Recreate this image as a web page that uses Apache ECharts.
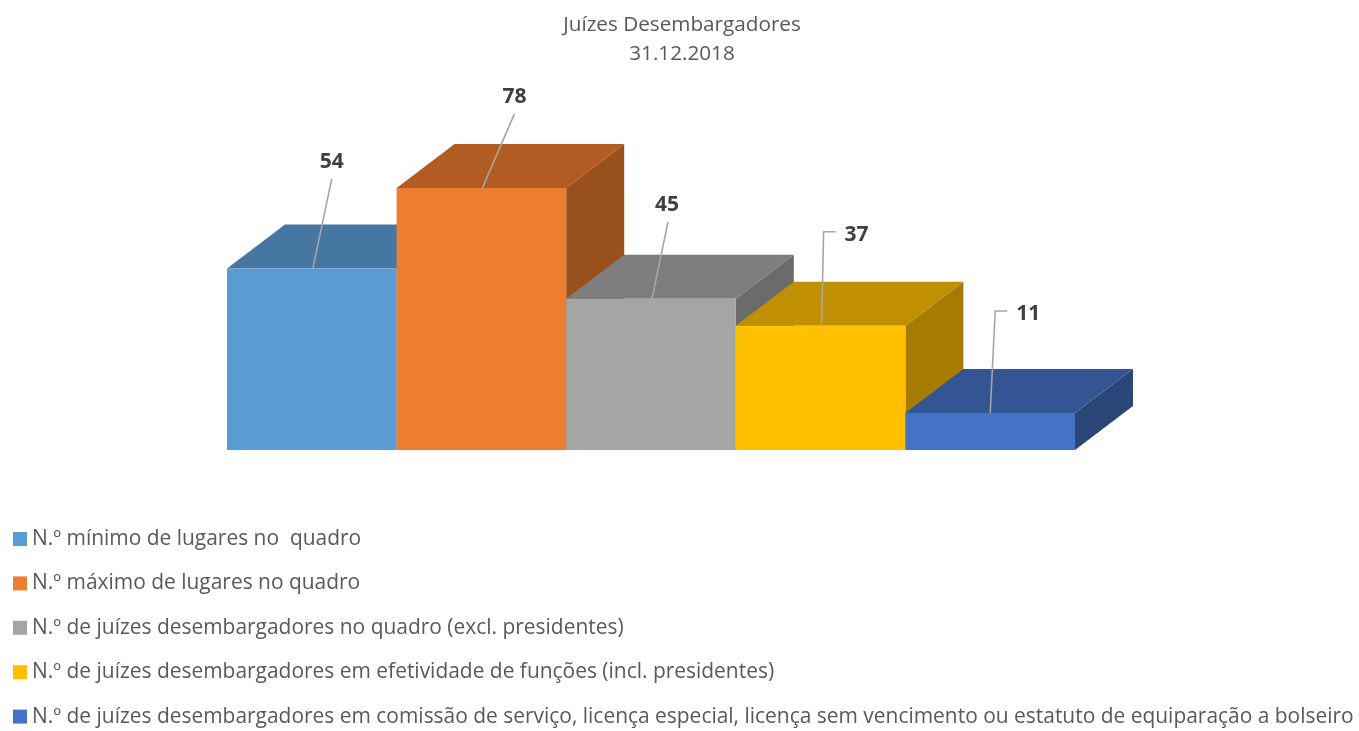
<!DOCTYPE html>
<html>
<head>
<meta charset="utf-8">
<title>Juízes Desembargadores</title>
<style>
  html, body { margin: 0; padding: 0; background: #fff; }
  #main { width: 1359px; height: 731px; }
</style>
<script src="https://cdn.jsdelivr.net/npm/echarts@6/dist/echarts.min.js"></script>
</head>
<body>
<div id="main"></div>
<script>
const categories = [
  'N.º mínimo de lugares no  quadro',
  'N.º máximo de lugares no quadro',
  'N.º de juízes desembargadores no quadro (excl. presidentes)',
  'N.º de juízes desembargadores em efetividade de funções (incl. presidentes)',
  'N.º de juízes desembargadores em comissão de serviço, licença especial, licença sem vencimento ou estatuto de equiparação a bolseiro'
]
const values = [54, 78, 45, 37, 11]

const frontColors = ['#5B9BD5', '#ED7D31', '#A5A5A5', '#FFC000', '#4472C4']
const topColors = ['#4676A2', '#B25B22', '#7E7E7E', '#C09000', '#335593']
const sideColors = ['#3E6A91', '#98501C', '#6B6B6B', '#A67C00', '#2A4679']

// profundidade do efeito 3D, em px
const depthX = 58
const depthY = 44

// linhas de chamada, relativas ao centro do topo da face frontal
const leaderPaths = [
  [[1, 0], [20, -90]],
  [[1, 0], [33, -74]],
  [[1, 0], [17, -77]],
  [[1, 0], [3, -94], [15, -94]],
  [[0, 0], [5, -102], [17, -102]]
]
const labelOffsets = [
  [20, -107],
  [33, -91],
  [16, -94],
  [36, -91],
  [38, -99]
]

function renderBar(params, api) {
  const i = api.value(0)
  const top = api.coord([i, api.value(1)])
  const base = api.coord([i, 0])
  const w = api.size([1, 0])[0]
  const x0 = top[0] - w / 2
  const x1 = top[0] + w / 2
  const y0 = top[1]
  const y1 = base[1]
  const leader = leaderPaths[i].map((p) => [top[0] + p[0], y0 + p[1]])
  return {
    type: 'group',
    children: [
      {
        type: 'polygon',
        shape: { points: [[x1, y0], [x1 + depthX, y0 - depthY], [x1 + depthX, y1 - depthY], [x1, y1]] },
        style: { fill: sideColors[i] }
      },
      {
        type: 'polygon',
        shape: { points: [[x0, y0], [x0 + depthX, y0 - depthY], [x1 + depthX, y0 - depthY], [x1, y0]] },
        style: { fill: topColors[i] }
      },
      {
        type: 'rect',
        shape: { x: x0, y: y0, width: w, height: y1 - y0 },
        style: { fill: frontColors[i] }
      },
      {
        type: 'polyline',
        shape: { points: leader },
        style: { fill: null, stroke: '#A6A6A6', lineWidth: 1.6 }
      },
      {
        type: 'text',
        style: {
          x: top[0] + labelOffsets[i][0],
          y: y0 + labelOffsets[i][1],
          text: String(api.value(1)),
          fill: '#404040',
          font: 'bold 21px "Open Sans"',
          align: 'center',
          verticalAlign: 'middle'
        }
      }
    ]
  }
}

const myChart = echarts.init(document.getElementById('main'))
const series = categories.map((name, index) => {
  return {
    type: 'custom',
    name: name,
    renderItem: renderBar,
    itemStyle: { color: frontColors[index] },
    encode: { x: 0, y: 1 },
    data: [[index, values[index]]],
    clip: false,
    animation: false
  }
})

myChart.setOption({
  animation: false,
  title: {
    text: 'Juízes Desembargadores\n31.12.2018',
    left: 677,
    top: 6,
    textAlign: 'center',
    textStyle: {
      color: '#595959',
      fontFamily: 'Open Sans',
      fontWeight: 'normal',
      fontSize: 20.7,
      lineHeight: 29
    }
  },
  legend: {
    orient: 'vertical',
    left: 13,
    top: 528.5,
    height: 202.5,
    padding: 0,
    icon: 'rect',
    itemWidth: 14,
    itemHeight: 14,
    itemGap: 23.4,
    selectedMode: false,
    data: categories,
    textStyle: {
      color: '#595959',
      fontFamily: 'Open Sans',
      fontSize: 20.95,
      lineHeight: 14,
      padding: [0, 0, 0, 0]
    }
  },
  grid: { left: 227, width: 848, top: 114, height: 336 },
  xAxis: {
    type: 'category',
    data: categories,
    show: false
  },
  yAxis: {
    type: 'value',
    min: 0,
    max: 100,
    show: false
  },
  series
})
</script>
</body>
</html>
